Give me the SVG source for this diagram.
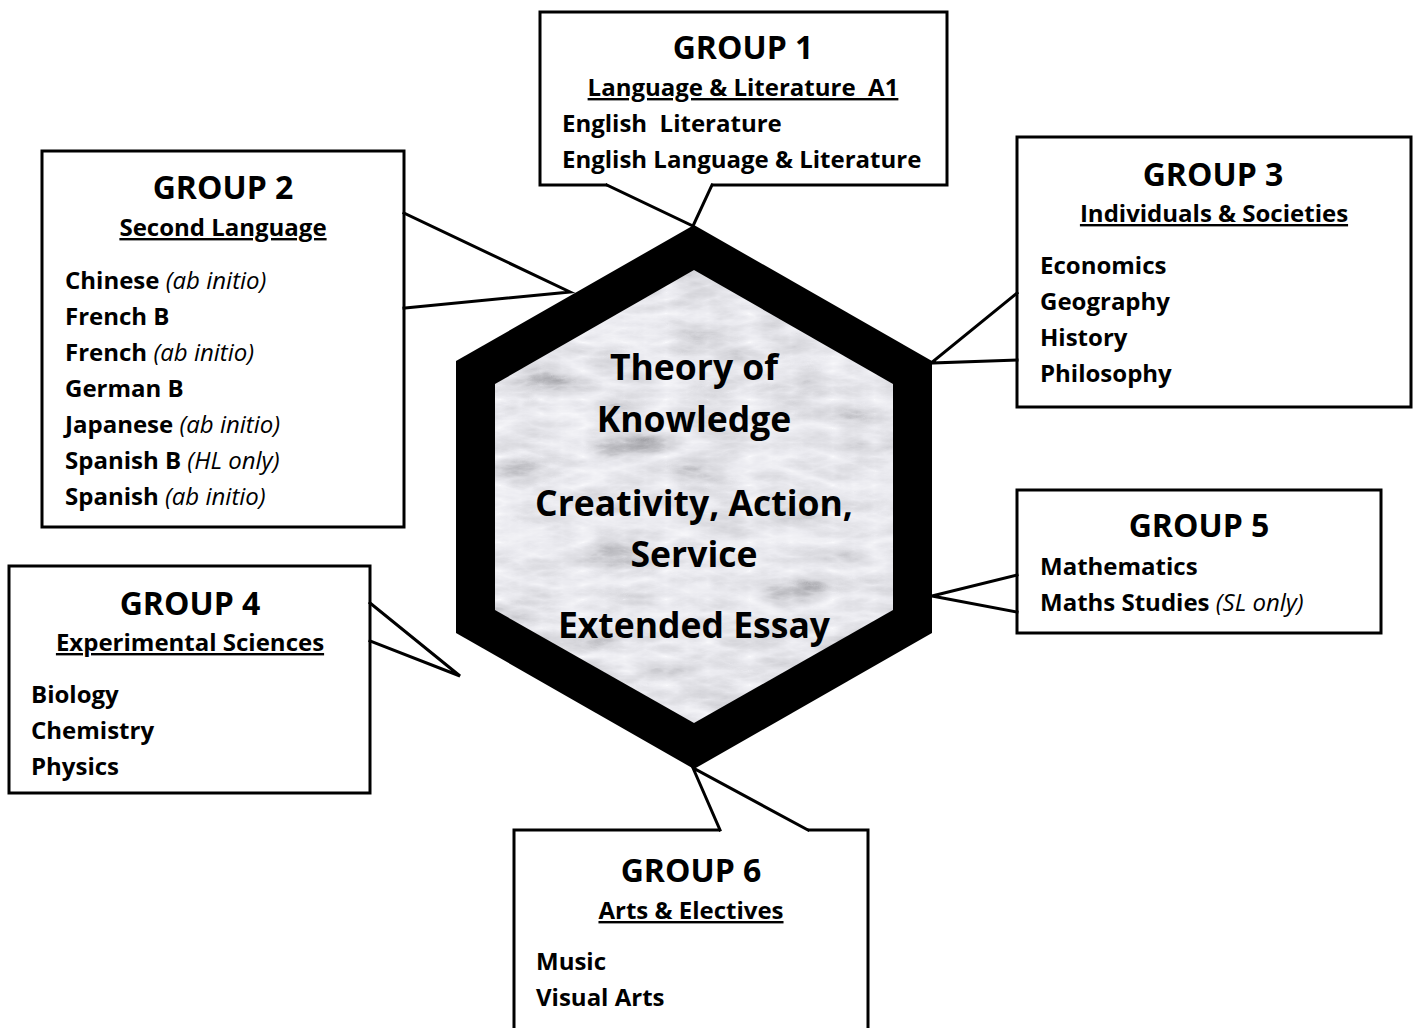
<svg xmlns="http://www.w3.org/2000/svg" width="1418" height="1028" viewBox="0 0 1418 1028">
<style>
.box{fill:#fff;stroke:#000;stroke-width:3}
.gap{fill:#fff;stroke:none}
.tail{fill:none;stroke:#000;stroke-width:3;stroke-linecap:square;stroke-linejoin:miter}
text{font-family:"Open Sans","Liberation Sans",sans-serif;font-weight:bold;fill:#000}
.title{font-size:32px;text-anchor:middle}
.sub{font-size:24px;text-anchor:middle;text-decoration:underline}
.item{font-size:24px}
.it{font-style:italic;font-weight:normal}
.hex{font-size:35.5px;text-anchor:middle}
</style>
<defs>
<filter id="marble" x="0" y="0" width="1" height="1" color-interpolation-filters="sRGB">
<feTurbulence type="turbulence" baseFrequency="0.012 0.035" numOctaves="5" seed="7" result="n"/>
<feColorMatrix in="n" type="matrix" values="0.5 0.5 0 0 0  0.5 0.5 0 0 0  0.5 0.5 0 0 0  0 0 0 0 1" result="g"/>
<feComponentTransfer in="g">
<feFuncR type="table" tableValues="0.98 0.92 0.84 0.68 0.52"/>
<feFuncG type="table" tableValues="0.98 0.92 0.84 0.68 0.52"/>
<feFuncB type="table" tableValues="0.99 0.94 0.86 0.70 0.54"/>
</feComponentTransfer>
</filter>
<clipPath id="innerHex"><polygon points="694,270 893,384 893,610 694,723 495,610 495,384"/></clipPath>
</defs>

<g id="group1">
<rect class="box" x="540" y="12" width="407" height="173"/>
<text class="title" x="743" y="59">GROUP 1</text>
<text class="sub" x="743" y="96" xml:space="preserve">Language &amp; Literature  A1</text>
<text class="item" x="562" y="132" xml:space="preserve">English  Literature</text>
<text class="item" x="562" y="168">English Language &amp; Literature</text>
</g>

<g id="group2">
<rect class="box" x="42" y="151" width="362" height="376"/>
<text class="title" x="223" y="199">GROUP 2</text>
<text class="sub" x="223" y="236">Second Language</text>
<text class="item" x="65" y="289">Chinese <tspan class="it">(ab initio)</tspan></text>
<text class="item" x="65" y="325">French B</text>
<text class="item" x="65" y="361">French <tspan class="it">(ab initio)</tspan></text>
<text class="item" x="65" y="397">German B</text>
<text class="item" x="65" y="433">Japanese <tspan class="it">(ab initio)</tspan></text>
<text class="item" x="65" y="469">Spanish B <tspan class="it">(HL only)</tspan></text>
<text class="item" x="65" y="505">Spanish <tspan class="it">(ab initio)</tspan></text>
</g>

<g id="group3">
<rect class="box" x="1017" y="137" width="394" height="270"/>
<text class="title" x="1213" y="186">GROUP 3</text>
<text class="sub" x="1214" y="222">Individuals &amp; Societies</text>
<text class="item" x="1040" y="274">Economics</text>
<text class="item" x="1040" y="310">Geography</text>
<text class="item" x="1040" y="346">History</text>
<text class="item" x="1040" y="382">Philosophy</text>
</g>

<g id="group4">
<rect class="box" x="9" y="566" width="361" height="227"/>
<text class="title" x="190" y="615">GROUP 4</text>
<text class="sub" x="190" y="651">Experimental Sciences</text>
<text class="item" x="31" y="703">Biology</text>
<text class="item" x="31" y="739">Chemistry</text>
<text class="item" x="31" y="775">Physics</text>
</g>

<g id="group5">
<rect class="box" x="1017" y="490" width="364" height="143"/>
<text class="title" x="1199" y="537">GROUP 5</text>
<text class="item" x="1040" y="575">Mathematics</text>
<text class="item" x="1040" y="611">Maths Studies <tspan class="it">(SL only)</tspan></text>
</g>

<g id="group6">
<rect class="box" x="514" y="830" width="354" height="215"/>
<text class="title" x="691" y="882">GROUP 6</text>
<text class="sub" x="691" y="919">Arts &amp; Electives</text>
<text class="item" x="536" y="970">Music</text>
<text class="item" x="536" y="1006">Visual Arts</text>
</g>

<g id="connectors">
<polygon class="gap" points="607,182 607,185 693,226 712,185 712,182"/>
<polyline class="tail" points="607,185 693,226 712,185"/>
<polygon class="gap" points="407,213 404,213 570,292 404,308 407,308"/>
<polyline class="tail" points="404,213 570,292 404,308"/>
<polygon class="gap" points="1014,293 1017,293 931,363 1017,360 1014,360"/>
<polyline class="tail" points="1017,293 931,363 1017,360"/>
<polygon class="gap" points="373,603 370,603 460,676 370,641 373,641"/>
<polyline class="tail" points="370,603 460,676 370,641"/>
<polygon class="gap" points="1014,575 1017,575 932,596 1017,612 1014,612"/>
<polyline class="tail" points="1017,575 932,596 1017,612"/>
<polygon class="gap" points="720,833 720,830 693,768 808,830 808,833"/>
<polyline class="tail" points="720,830 693,768 808,830"/>
</g>

<g id="core">
<polygon points="694,225 932,361 932,633 694,769 456,633 456,361" fill="#000"/>
<g clip-path="url(#innerHex)">
<rect x="495" y="270" width="398" height="453" fill="#eee" filter="url(#marble)"/>
</g>
<text class="hex" x="694" y="380">Theory of</text>
<text class="hex" x="694" y="432">Knowledge</text>
<text class="hex" x="694" y="516">Creativity, Action,</text>
<text class="hex" x="694" y="567">Service</text>
<text class="hex" x="694" y="638">Extended Essay</text>
</g>
</svg>
